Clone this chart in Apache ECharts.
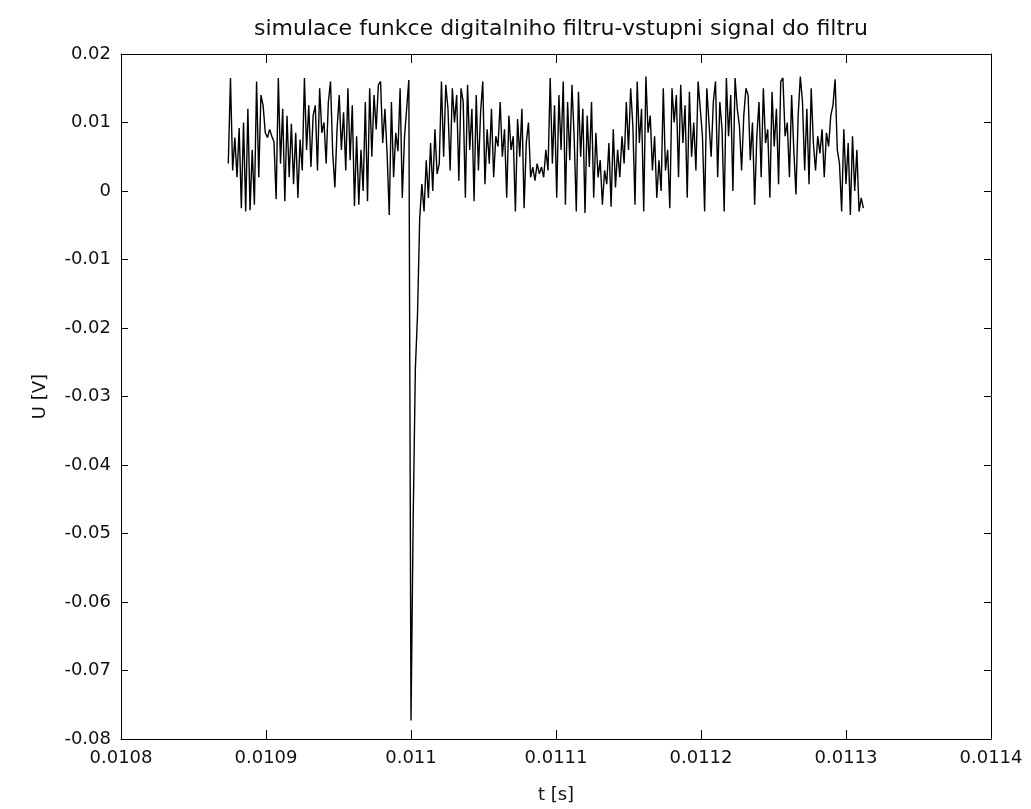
<!DOCTYPE html>
<html>
<head>
<meta charset="utf-8">
<script src="https://cdn.jsdelivr.net/npm/echarts@6/dist/echarts.min.js"></script>
<style>
  html, body { margin: 0; padding: 0; background: #fff; }
  #chart { width: 1031px; height: 809px; }
</style>
</head>
<body>
<div id="chart"></div>
<script>
// time axis of the sampled signal
const tStart = 0.010874;
const tStep = 0.0000015;

// input signal U [V], one value per sample
const uVolts = [
  0.0040, 0.0165, 0.0030, 0.0078, 0.0020, 0.0092, -0.0025, 0.0100, -0.0030, 0.0120,
  -0.0028, 0.0060, -0.0020, 0.0160, 0.0020, 0.0140, 0.0125, 0.0085, 0.0078, 0.0090,
  0.0080, 0.0072, -0.0012, 0.0165, 0.0040, 0.0120, -0.0015, 0.0110, 0.0020, 0.0098,
  0.0010, 0.0085, -0.0010, 0.0075, 0.0030, 0.0165, 0.0060, 0.0125, 0.0035, 0.0110,
  0.0125, 0.0030, 0.0150, 0.0085, 0.0100, 0.0040, 0.0130, 0.0160, 0.0055, 0.0005,
  0.0090, 0.0140, 0.0060, 0.0115, 0.0030, 0.0150, 0.0045, 0.0125, -0.0022, 0.0080,
  -0.0020, 0.0060, 0.0000, 0.0130, -0.0015, 0.0150, 0.0050, 0.0140, 0.0090, 0.0155,
  0.0160, 0.0070, 0.0120, 0.0055, -0.0035, 0.0130, 0.0020, 0.0085, 0.0058, 0.0150,
  -0.0010, 0.0078, 0.0120, 0.0162, -0.0773, -0.0480, -0.0260, -0.0180, -0.0040, 0.0010,
  -0.0030, 0.0045, -0.0010, 0.0070, 0.0000, 0.0090, 0.0025, 0.0040, 0.0160, 0.0050,
  0.0155, 0.0120, 0.0030, 0.0150, 0.0100, 0.0140, 0.0015, 0.0150, 0.0130, -0.0010,
  0.0155, 0.0060, 0.0120, -0.0015, 0.0140, 0.0030, 0.0115, 0.0160, 0.0010, 0.0090,
  0.0040, 0.0120, 0.0020, 0.0080, 0.0065, 0.0130, 0.0050, 0.0090, -0.0010, 0.0110,
  0.0060, 0.0080, -0.0030, 0.0105, 0.0050, 0.0120, -0.0025, 0.0070, 0.0100, 0.0020,
  0.0035, 0.0015, 0.0040, 0.0025, 0.0035, 0.0020, 0.0060, 0.0030, 0.0165, 0.0040,
  0.0125, -0.0010, 0.0140, 0.0060, 0.0160, -0.0020, 0.0130, 0.0045, 0.0155, 0.0080,
  -0.0030, 0.0145, 0.0050, 0.0120, -0.0032, 0.0110, 0.0035, 0.0130, -0.0010, 0.0085,
  0.0020, 0.0045, -0.0020, 0.0030, 0.0010, 0.0070, -0.0023, 0.0090, 0.0005, 0.0060,
  0.0020, 0.0080, 0.0040, 0.0130, 0.0060, 0.0150, 0.0095, -0.0020, 0.0160, 0.0070,
  0.0120, -0.0030, 0.0167, 0.0085, 0.0110, 0.0030, 0.0080, -0.0010, 0.0045, 0.0000,
  0.0150, 0.0030, 0.0060, -0.0025, 0.0150, 0.0100, 0.0140, 0.0020, 0.0155, 0.0070,
  0.0125, -0.0010, 0.0145, 0.0050, 0.0100, 0.0030, 0.0160, 0.0120, 0.0080, -0.0030,
  0.0150, 0.0100, 0.0050, 0.0130, 0.0160, 0.0020, 0.0130, 0.0090, -0.0030, 0.0165,
  0.0080, 0.0140, 0.0000, 0.0165, 0.0120, 0.0095, 0.0030, 0.0110, 0.0150, 0.0140,
  0.0045, 0.0100, -0.0020, 0.0080, 0.0130, 0.0020, 0.0150, 0.0070, 0.0090, -0.0010,
  0.0145, 0.0065, 0.0120, 0.0010, 0.0160, 0.0165, 0.0080, 0.0100, 0.0020, 0.0140,
  0.0060, -0.0005, 0.0110, 0.0167, 0.0130, 0.0030, 0.0120, 0.0010, 0.0150, 0.0070,
  0.0030, 0.0080, 0.0055, 0.0090, 0.0020, 0.0085, 0.0065, 0.0110, 0.0125, 0.0163,
  0.0060, 0.0040, -0.0030, 0.0090, 0.0010, 0.0070, -0.0035, 0.0080, 0.0000, 0.0060,
  -0.0030, -0.0010, -0.0025
];

// axis ranges / tick steps
const xMin = 0.0108, xMax = 0.0114, xStep = 0.0001;
const yMin = -0.08, yMax = 0.02, yStep = 0.01;

const titleText = 'simulace funkce digitalniho filtru-vstupni signal do filtru';
const xName = 't [s]';
const yName = 'U [V]';

const font = 'DejaVu Sans';
const ink = '#000';

const chart = echarts.init(document.getElementById('chart'), null, { renderer: 'canvas' });

const points = uVolts.map((u, i) => [tStart + i * tStep, u]);

// MATLAB-like box: ticks inside on all four sides
const baseAxis = {
  type: 'value',
  axisLine: { show: true, onZero: false, lineStyle: { color: ink, width: 1 } },
  axisTick: { show: true, inside: true, lineStyle: { color: ink, width: 1 } },
  splitLine: { show: false },
  axisLabel: { color: '#111', fontFamily: font, fontSize: 18 }
};

const option = {
  backgroundColor: '#fff',
  animation: false,
  title: {
    text: titleText,
    left: 556,
    top: 13,
    textAlign: 'center',
    textStyle: { color: '#111', fontFamily: font, fontSize: 22, fontWeight: 'normal' }
  },
  grid: { left: 121, right: 40, top: 54, bottom: 70, containLabel: false },
  xAxis: [
    Object.assign({}, baseAxis, {
      position: 'bottom',
      min: xMin, max: xMax, interval: xStep,
      axisTick: Object.assign({}, baseAxis.axisTick, { length: 9 }),
      axisLabel: Object.assign({}, baseAxis.axisLabel, {
        margin: 10,
        formatter: v => String(+v.toFixed(4))
      }),
      name: xName,
      nameLocation: 'middle',
      nameGap: 47,
      nameTextStyle: { color: '#111', fontFamily: font, fontSize: 18 }
    }),
    Object.assign({}, baseAxis, {
      position: 'top',
      min: xMin, max: xMax, interval: xStep,
      axisTick: Object.assign({}, baseAxis.axisTick, { length: 9 }),
      axisLabel: { show: false }
    })
  ],
  yAxis: [
    Object.assign({}, baseAxis, {
      position: 'left',
      min: yMin, max: yMax, interval: yStep,
      axisTick: Object.assign({}, baseAxis.axisTick, { length: 7 }),
      axisLabel: Object.assign({}, baseAxis.axisLabel, {
        margin: 10,
        formatter: v => String(+v.toFixed(2))
      }),
      name: yName,
      nameLocation: 'middle',
      nameGap: 72,
      nameRotate: 90,
      nameTextStyle: { color: '#111', fontFamily: font, fontSize: 18 }
    }),
    Object.assign({}, baseAxis, {
      position: 'right',
      min: yMin, max: yMax, interval: yStep,
      axisTick: Object.assign({}, baseAxis.axisTick, { length: 7 }),
      axisLabel: { show: false }
    })
  ],
  series: [{
    type: 'line',
    data: points,
    xAxisIndex: 0,
    yAxisIndex: 0,
    showSymbol: false,
    symbol: 'none',
    lineStyle: { color: ink, width: 1.4 },
    silent: true
  }]
};

chart.setOption(option);
</script>
</body>
</html>
